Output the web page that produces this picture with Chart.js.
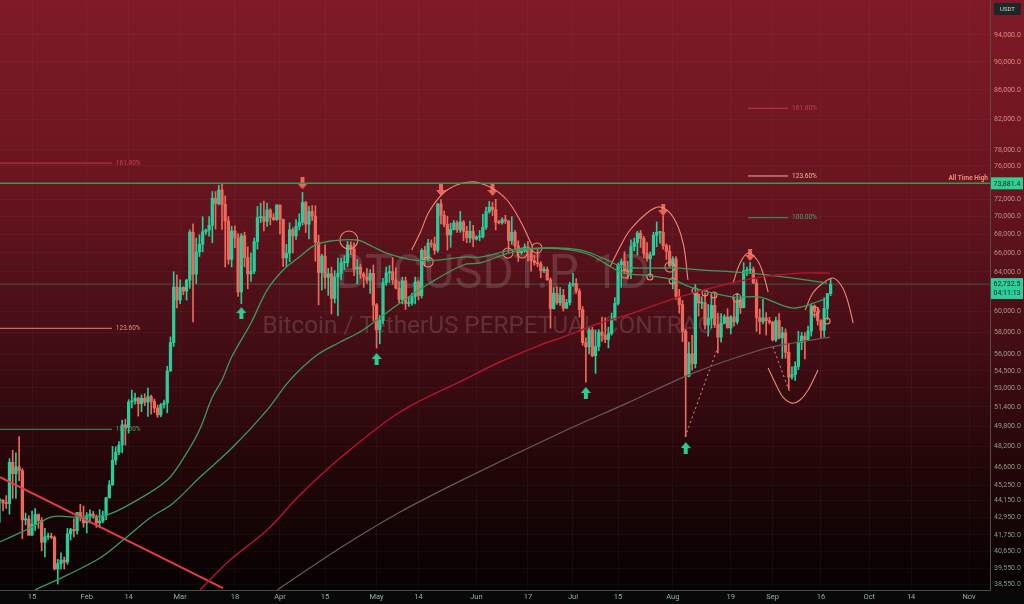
<!DOCTYPE html>
<html><head><meta charset="utf-8">
<script src="https://cdn.jsdelivr.net/npm/chart.js@4.4.1/dist/chart.umd.min.js"></script>
<style>html,body{margin:0;padding:0;background:#000;overflow:hidden}#wrap{position:relative;width:1024px;height:604px}</style>
</head><body><div id="wrap"><canvas id="c" width="1024" height="604"></canvas></div>
<script>
// ---------- DATA ----------
// daily candles BTCUSDT.P, from 2024-01-05 (day index 4, counted from Jan 1) to 2024-09-19
const startDay = 4;
const opens = [
44150,44160,43970,43930,46970,46110,46630,46340,42780,42840,41730,42500,43150,42740,41260,41620,41660,41580,39500,39850,40080,39950,41820,42120,42030,43300,42950,
42580,43080,43190,42990,42580,42700,43090,44340,45290,47130,47750,48300,49920,49700,51800,51900,52130,51660,52120,51780,52260,51850,51300,50730,51570,51730,54480,57050,62430,
61130,62390,62030,63130,68250,63750,66100,66920,68300,68500,69020,72100,71480,73080,71400,69500,65300,68390,67600,61940,67860,65490,63780,64050,67210,69880,69990,69450,70750,69890,69650,
71330,69700,65460,65960,68510,67840,68900,69360,71620,69150,70590,70060,67150,63920,65660,63420,63800,61280,63470,63840,64940,64940,66840,66410,64280,64500,63770,63460,63120,63840,
60650,58250,59120,62890,63890,64010,63160,62330,61190,63070,60790,60820,61480,62940,61580,66270,65230,67050,66940,66270,71450,70140,69120,67930,68550,69290,68500,69390,68350,67630,68350,
67490,67710,67770,68800,70560,71080,70790,69360,69300,69650,69510,67320,68240,66750,66010,66190,66640,66490,65160,64960,64830,64100,64250,63180,60280,61800,60860,61610,60320,60890,
62680,62780,62030,60200,57040,56660,58230,55850,56700,58040,57720,57340,57900,59250,60800,64750,65070,64100,63980,66670,67120,68150,67560,65930,65360,65780,67900,68230,68240,66770,66180,
64620,65350,61500,60680,58100,54020,56030,55130,61700,60830,60880,58700,59350,60600,58740,57560,58870,59480,58430,59480,59010,61160,60380,64090,64170,64260,62830,59430,59030,59380,59120,
58970,57300,59130,57490,57970,56160,53950,54160,54880,57050,57650,57340,58130,60550,60010,59130,58210,60310,61760];
const highs = [
44300,44220,44500,47250,47900,47700,48970,46500,43260,43080,43400,43580,43200,42930,42200,41880,41870,41680,40130,40550,40280,42200,42200,42850,43300,43880,43750,
43290,43480,43380,43120,43500,43400,44380,45600,48200,48170,48590,50300,50370,52000,52820,52570,52200,52400,52500,52980,52380,52050,51540,51680,51960,54900,57580,64000,63680,
63170,62480,63230,68500,69170,67600,67980,69980,68600,70000,72900,72900,73650,73881,72400,70000,68900,68950,68100,68100,68250,66650,65970,67600,71150,71560,71770,71550,70900,70350,71370,
71330,69700,66900,69290,68720,69650,70330,72800,71750,71170,71260,71230,67930,65840,66870,64360,64480,64120,65450,65420,65700,67230,67200,67080,65300,64800,63920,64370,64230,64700,
60780,59600,63330,64500,64650,65500,64400,62990,63420,63450,61450,61820,63450,63100,66450,66700,67450,67400,67700,71500,71950,70630,70050,69250,69570,69530,70600,69560,68900,69500,69000,
67860,68450,70270,71060,71760,71620,71990,69580,69850,70150,69550,69990,68450,67300,66400,66980,67230,66490,65730,66480,65070,64520,64500,63370,62360,62480,62370,62200,61200,62920,
63850,63300,62250,60500,57500,58480,58480,58240,58280,59460,59400,58500,59850,61380,64900,65350,66120,65100,67420,67600,68350,68450,67800,67100,66100,68250,69400,68310,70080,66980,66800,
65580,65600,62200,61100,58300,57100,57720,62700,61750,61470,61850,60700,61580,61800,59850,59800,59700,60270,59600,61400,61800,61400,64950,64500,65000,64500,63200,60250,61200,59900,59450,
59050,59450,59800,58500,58330,56990,54850,55300,58100,58000,57990,58600,60650,60650,60400,59210,61350,61800,63300];
const lows = [
42600,43400,43580,43180,44300,44300,45600,41500,42440,41720,41720,42050,42200,40680,40280,41450,41500,39450,38550,39490,39500,39800,41400,41620,41800,42700,42270,
41880,42570,42880,42260,42250,42570,42790,44330,45250,46800,47550,47700,48300,49250,51300,51620,50630,51000,51500,50600,50800,50930,50530,50580,51280,50900,54450,56690,60360,
60770,61650,61130,62300,59000,62800,65600,66100,68000,67800,67100,68600,71330,68550,64500,64800,64500,66560,61500,60780,64520,62260,63000,63800,66400,69300,68400,68900,69070,69570,69560,
68060,64550,64500,65060,66000,67450,68500,69040,68210,67520,69570,65100,60660,62130,62300,61600,59770,60830,59600,63170,64230,64500,65800,63600,62790,63300,62400,62800,61800,59100,
56550,56940,58800,62600,62900,62700,62250,60880,60750,60200,60490,60630,60750,61150,61330,64600,65120,66600,65850,66060,69160,68850,66300,66600,68500,68220,68230,67300,67110,67130,66670,
67380,67300,67600,68550,70380,70120,68500,69180,69130,69220,66050,66900,66300,65080,65870,66050,65100,64060,64690,64520,63380,63900,63100,58400,60240,60690,60600,60050,60300,60650,
62500,61800,59450,56800,53500,56000,55750,54270,56300,57150,57040,56560,57750,59200,60650,62400,63900,63250,63300,66220,65770,66580,65460,65100,63450,65730,66650,67050,66400,65300,64500,
62250,61200,59850,57150,49000,53950,54550,54750,59560,60280,58300,57650,58420,58460,56100,57100,58800,58420,57850,58600,58800,59800,60350,63600,63800,62800,58100,57850,58800,57750,58800,
57200,57130,57400,55600,55620,52900,53750,53650,54600,56400,55550,57320,57650,59440,58700,57500,57600,59200,61560];
const closes = [
44160,43970,43930,46970,46110,46630,46340,42780,42840,41730,42500,43150,42740,41260,41620,41660,41580,39500,39850,40080,39950,41820,42120,42030,43300,42950,42580,
43080,43190,42990,42580,42700,43090,44340,45290,47130,47750,48300,49920,49700,51800,51900,52130,51660,52120,51780,52260,51850,51300,50730,51570,51730,54480,57050,62430,61130,
62390,62030,63130,68250,63750,66100,66920,68300,68500,69020,72100,71480,73080,71400,69500,65300,68390,67600,61940,67860,65490,63780,64050,67210,69880,69990,69450,70750,69890,69650,71330,
69700,65460,65960,68510,67840,68900,69360,71620,69150,70590,70060,67150,63920,65660,63420,63800,61280,63470,63840,64940,64940,66840,66410,64280,64500,63770,63460,63120,63840,60650,
58250,59120,62890,63890,64010,63160,62330,61190,63070,60790,60820,61480,62940,61580,66270,65230,67050,66940,66270,71450,70140,69120,67930,68550,69290,68500,69390,68350,67630,68350,67490,
67710,67770,68800,70560,71080,70790,69360,69300,69650,69510,67320,68240,66750,66010,66190,66640,66490,65160,64960,64830,64100,64250,63180,60280,61800,60860,61610,60320,60890,62680,
62780,62030,60200,57040,56660,58230,55850,56700,58040,57720,57340,57900,59250,60800,64750,65070,64100,63980,66670,67120,68150,67560,65930,65360,65780,67900,68230,68240,66770,66180,64620,
65350,61500,60680,58100,54020,56030,55130,61700,60830,60880,58700,59350,60600,58740,57560,58870,59480,58430,59480,59010,61160,60380,64090,64170,64260,62830,59430,59030,59380,59120,58970,
57300,59130,57490,57970,56160,53950,54160,54880,57050,57650,57340,58130,60550,60010,59130,58210,60310,61760,62732.5];

// moving averages (day index, price)
const ma50Days = [4,10,14,19,22,28,37,45,56,62,66,70,73,76,82,87,92,97,102,107,115,120,124,132.3,140.7,147.9,153.1,163.4,173.9,181.1,187.3,194.4,197.5,206.9,213.1,219.3,231.7,240.1,250.3,259.7];
const ma50Vals = [41270,41870,42280,42910,43040,42970,43110,43960,45640,47680,49500,52220,53680,55730,58890,62130,64190,65550,66850,67280,67390,66630,65980,65240,65240,65550,65550,66310,66520,66310,65770,64390,63870,63560,63160,62340,61430,61430,60340,61150];
const ma100Days = [14.9,24.9,35.1,42.3,50.6,57.8,66.2,76.4,87,94.1,102.5,109.7,116.8,127.4,137.6,147.9,153.1,163.4,173.9,184.2,192.6,197.5,206.9,215.2,221.5,231.7,242.3,252.5,260.9];
const ma100Vals = [38180,39110,40210,41400,42910,43960,45860,48150,51130,53680,55910,57100,58230,60640,62840,64710,64920,66090,66520,66310,65240,64500,64390,64390,64190,63980,63680,63250,62840];
const ma200Days = [66.2,75.5,87,97.2,109.7,128.3,147.9,159.3,171.8,178.9,190.4,198.8,212.1,219.3,229.8,240.1,252.5,261.8];
const ma200Vals = [38180,40080,42080,44540,47300,50970,53680,55280,56820,57560,58890,59660,61150,61830,62740,63450,63860,63860];
const maSlowDays = [90.1,109.7,128.3,146.9,178,198.8,219.3,240.1,250.3,261.8];
const maSlowVals = [38180,40870,43330,45560,49260,51710,54290,56370,57010,57560];

// drawings
const trendDays = [4.06, 73.3];
const trendVals = [45860, 38300];
const athPrice = 73881.4;
const lastPrice = 62732.5;
const fibLeftDays = [4.06, 38.8];
const fibLeftVals = [76350, 58390, 49560];
const fibRightDays = [236.4, 248.8];
const fibRightVals = [83460, 74770, 69870];
const fibLabels = ['161.80%', '123.60%', '100.00%'];
const arc1Days = [131.9,134.5,137.6,142.9,150.0,156.2,161.5,165.5,169.5];
const arc1Vals = [66310,68160,70750,73090,74050,73440,71910,69610,66630];
const arc2Days = [193.5,196.6,199.7,205.0,209.0,213.1,216.2,217.7];
const arc2Vals = [64500,66630,68490,70410,71100,69950,67060,63160];
const arc3Days = [231.7,233.9,236.4,239.2,241.0,242.6];
const arc3Vals = [62840,64920,65980,65240,63870,61930];
const arc4Days = [254.1,256.5,259.7,262.8,265.6,267.5,269.0];
const arc4Vals = [60160,61830,62840,63350,62440,60830,58890];
const arc5Days = [242.6,245.4,247.2,250.0,252.5,255.0,258.1];
const arc5Vals = [54740,53080,52220,51710,51970,52820,54570];
const dot1Days = [216.8, 227.0], dot1Vals = [48940, 56640];
const dot2Days = [244.1, 249.4], dot2Vals = [56640, 52570];
const circleDays = [112.4,137.0,161.8,166.2,170.8,198.2,205.9,212.1,212.8,219.9,223.0,225.8,232.9,257.2,260.9];
const circleVals = [67390,65020,65980,65980,66520,63770,63460,64500,63050,62030,61830,61630,61330,60050,59080];
const circleSizes = [9,5,5,5,5,4,3,5,3,3,3,3,4,4,3];
const downArrowDays = [98,141,157,210,237];
const downArrowVals = [73880,73090,73090,70750,65770];
const upArrowDays = [79,121,186,217];
const upArrowVals = [59850,55550,52570,48070];

// axes
const yTicks = [94000,90000,86000,82000,78000,76000,72000,70000,68000,66000,64000,60000,58000,56000,54500,53000,51400,49800,48200,46600,45250,44150,42950,41750,40650,39550,38550];
const xTickDays = [14,31,44,60,77,91,105,121,134,152,168,182,196,213,231,244,259,274,287,305];
const xTickLabels = ['15','Feb','14','Mar','18','Apr','15','May','14','Jun','17','Jul','15','Aug','19','Sep','16','Oct','14','Nov'];

// ---------- CHART ----------
const X_MIN = 4.06, X_MAX = 311.5, Y_MIN = 38178, Y_MAX = 99495;
const GREEN = '#28cd9b', RED = '#ec695c', SALMON = '#ee8a74';
const pts = (ds, vs) => ds.map((d, i) => ({x: d, y: vs[i]}));
const cdays = opens.map((_, i) => startDay + i);
const cColors = closes.map((c, i) => c >= opens[i] ? GREEN : RED);

function arrowCanvas(color, down) {
  const c = document.createElement('canvas'); c.width = 10; c.height = 12;
  const g = c.getContext('2d'); g.fillStyle = color;
  g.save();
  if (down) { g.translate(0, 12); g.scale(1, -1); }
  g.beginPath(); g.moveTo(5, 0); g.lineTo(10, 6); g.lineTo(7, 6); g.lineTo(7, 12); g.lineTo(3, 12); g.lineTo(3, 6); g.lineTo(0, 6); g.closePath(); g.fill();
  g.restore();
  return c;
}
const upArrow = arrowCanvas('#27cf92', false), downArrow = arrowCanvas('#e8665a', true);

const lineDs = (data, color, width, extra) => Object.assign({type: 'line', data, borderColor: color, borderWidth: width, pointRadius: 0, fill: false, tension: 0.35, order: 0}, extra || {});

const datasets = [
  {type: 'bar', data: cdays.map((d, i) => ({x: d, y: [lows[i], highs[i]]})), backgroundColor: cColors, barThickness: 1, grouped: false, order: 5},
  {type: 'bar', data: cdays.map((d, i) => ({x: d, y: [opens[i], closes[i]]})), backgroundColor: cColors, barThickness: 2.6, minBarLength: 1, grouped: false, order: 4},
  lineDs(pts(maSlowDays, maSlowVals), '#675a5a', 1.2),
  lineDs(pts(ma200Days, ma200Vals), '#b8152d', 1.4),
  lineDs(pts(ma100Days, ma100Vals), '#3a9a5e', 1.3),
  lineDs(pts(ma50Days, ma50Vals), '#3a9a5e', 1.3),
  lineDs(pts(trendDays, trendVals), '#e83a4e', 2, {tension: 0}),
  lineDs([{x: X_MIN, y: athPrice}, {x: X_MAX, y: athPrice}], '#339a56', 1.5, {tension: 0}),
  lineDs([{x: X_MIN, y: lastPrice}, {x: X_MAX, y: lastPrice}], 'rgba(43,208,155,0.35)', 1, {tension: 0}),
  lineDs([{x: fibLeftDays[0], y: fibLeftVals[0]}, {x: fibLeftDays[1], y: fibLeftVals[0]}], '#c23a48', 1, {tension: 0}),
  lineDs([{x: fibLeftDays[0], y: fibLeftVals[1]}, {x: fibLeftDays[1], y: fibLeftVals[1]}], '#e8826e', 1, {tension: 0}),
  lineDs([{x: fibLeftDays[0], y: fibLeftVals[2]}, {x: fibLeftDays[1], y: fibLeftVals[2]}], '#3c9a5a', 1, {tension: 0}),
  lineDs([{x: fibRightDays[0], y: fibRightVals[0]}, {x: fibRightDays[1], y: fibRightVals[0]}], '#c23a48', 1, {tension: 0}),
  lineDs([{x: fibRightDays[0], y: fibRightVals[1]}, {x: fibRightDays[1], y: fibRightVals[1]}], '#f3b39f', 1, {tension: 0}),
  lineDs([{x: fibRightDays[0], y: fibRightVals[2]}, {x: fibRightDays[1], y: fibRightVals[2]}], '#3c9a5a', 1, {tension: 0}),
  lineDs(pts(arc1Days, arc1Vals), SALMON, 1.1),
  lineDs(pts(arc2Days, arc2Vals), SALMON, 1.1),
  lineDs(pts(arc3Days, arc3Vals), SALMON, 1.1),
  lineDs(pts(arc4Days, arc4Vals), SALMON, 1.1),
  lineDs(pts(arc5Days, arc5Vals), SALMON, 1.1),
  lineDs(pts(dot1Days, dot1Vals), SALMON, 1, {tension: 0, borderDash: [2, 3]}),
  lineDs(pts(dot2Days, dot2Vals), SALMON, 1, {tension: 0, borderDash: [2, 3]}),
  {type: 'line', data: pts(circleDays, circleVals), showLine: false, pointRadius: circleSizes, pointBorderColor: SALMON, pointBackgroundColor: 'rgba(0,0,0,0)', pointBorderWidth: 1.1, order: 0},
  {type: 'line', data: pts(downArrowDays, downArrowVals), showLine: false, pointStyle: downArrow, order: 0},
  {type: 'line', data: pts(upArrowDays, upArrowVals), showLine: false, pointStyle: upArrow, order: 0}
];

function tickColor(v) {
  const t = Math.max(0, Math.min(1, (Math.log(v) - Math.log(38550)) / (Math.log(94000) - Math.log(38550))));
  const a = [125, 160, 138], b = [224, 138, 130];
  const c = a.map((x, i) => Math.round(x + (b[i] - x) * t));
  return `rgb(${c[0]},${c[1]},${c[2]})`;
}
const fmt = v => v.toLocaleString('en-US', {minimumFractionDigits: 1, maximumFractionDigits: 1});
const noPad = s => { s.paddingLeft = 0; s.paddingRight = 0; s.paddingTop = 0; s.paddingBottom = 0; };

const bgPlugin = {
  id: 'bg',
  beforeDraw(chart) {
    const ctx = chart.ctx, b = chart.chartArea.bottom;
    const g = ctx.createLinearGradient(0, 0, 0, b);
    g.addColorStop(0, '#7f1a28'); g.addColorStop(0.3, '#6a1520'); g.addColorStop(0.55, '#480e16');
    g.addColorStop(0.8, '#210608'); g.addColorStop(1, '#060102');
    ctx.save(); ctx.fillStyle = g; ctx.fillRect(0, 0, chart.width, b);
    ctx.fillStyle = '#080808'; ctx.fillRect(0, b, chart.width, chart.height - b); ctx.restore();
  },
  beforeDatasetsDraw(chart) {
    const ctx = chart.ctx, a = chart.chartArea, cx = (a.left + a.right) / 2;
    ctx.save(); ctx.fillStyle = 'rgba(255,255,255,0.14)'; ctx.textAlign = 'center'; ctx.textBaseline = 'alphabetic';
    ctx.font = '47.5px Roboto'; ctx.fillText('BTCUSDT.P, 1D', cx - 2, 288);
    ctx.font = '24.3px Roboto'; ctx.fillText('Bitcoin / TetherUS PERPETUAL CONTRACT', cx, 333);
    ctx.restore();
  },
  afterDatasetsDraw(chart) {
    const ctx = chart.ctx, xs = chart.scales.x, ys = chart.scales.y;
    const cols = ['#c9404e', '#ee8a76', '#4aa66a'], colsR = ['#c9404e', '#f4b6a2', '#4aa66a'];
    ctx.save(); ctx.font = '6.5px Roboto'; ctx.textBaseline = 'middle'; ctx.textAlign = 'left';
    fibLabels.forEach((t, i) => {
      ctx.fillStyle = cols[i]; ctx.fillText(t, xs.getPixelForValue(fibLeftDays[1]) + 4, ys.getPixelForValue(fibLeftVals[i]));
      ctx.fillStyle = colsR[i]; ctx.fillText(t, xs.getPixelForValue(fibRightDays[1]) + 4, ys.getPixelForValue(fibRightVals[i]));
    });
    ctx.font = 'bold 6.5px Roboto'; ctx.textAlign = 'right'; ctx.textBaseline = 'alphabetic'; ctx.fillStyle = '#f08a78';
    ctx.fillText('All Time High', chart.chartArea.right - 2, ys.getPixelForValue(athPrice) - 3);
    ctx.restore();
  },
  afterDraw(chart) {
    const ctx = chart.ctx, ys = chart.scales.y, L = chart.chartArea.right + 1;
    ctx.save(); ctx.textAlign = 'center'; ctx.textBaseline = 'middle';
    let y = ys.getPixelForValue(athPrice);
    ctx.fillStyle = '#30cf92'; ctx.fillRect(L, y - 6, 32, 12);
    ctx.fillStyle = '#0d2a1e'; ctx.font = '7px Roboto'; ctx.fillText(fmt(athPrice), L + 16, y + 0.5);
    y = ys.getPixelForValue(lastPrice);
    ctx.fillStyle = '#2fcf9b'; ctx.fillRect(L, y - 6, 32, 21);
    ctx.fillStyle = '#0d2a1e'; ctx.fillText(fmt(lastPrice), L + 16, y);
    ctx.fillText('04:11:13', L + 16, y + 9);
    ctx.fillStyle = '#1d2826'; ctx.fillRect(L + 3, 3, 27, 12);
    ctx.fillStyle = '#cfd6d3'; ctx.font = '6px Roboto'; ctx.fillText('USDT', L + 16.5, 9.5);
    ctx.restore();
  }
};

new Chart(document.getElementById('c'), {
  type: 'bar',
  data: {datasets},
  plugins: [bgPlugin],
  options: {
    responsive: false, animation: false, devicePixelRatio: 1,
    layout: {padding: 0, autoPadding: false},
    plugins: {legend: {display: false}, tooltip: {enabled: false}},
    scales: {
      x: {
        type: 'linear', min: X_MIN, max: X_MAX, offset: false,
        grid: {color: 'rgba(255,255,255,0.035)', offset: false, drawTicks: false},
        border: {color: '#4a4a4a', width: 1},
        afterBuildTicks: s => { s.ticks = xTickDays.map(v => ({value: v})); },
        afterFit: s => { s.height = 14; noPad(s); },
        ticks: {autoSkip: false, maxRotation: 0, padding: 3, color: '#8cb59c', font: {family: 'Roboto', size: 7.5},
          callback: v => { const i = xTickDays.indexOf(v); return i >= 0 ? xTickLabels[i] : ''; }}
      },
      y: {
        type: 'logarithmic', position: 'right', min: Y_MIN, max: Y_MAX,
        grid: {color: 'rgba(255,255,255,0.035)', drawTicks: false},
        border: {color: '#5a4a4a', width: 1},
        afterBuildTicks: s => { s.ticks = yTicks.map(v => ({value: v})); },
        afterFit: s => { s.width = 34; noPad(s); },
        ticks: {autoSkip: false, padding: 4, font: {family: 'Roboto', size: 7},
          color: c => tickColor(c.tick ? c.tick.value : 60000),
          callback: v => fmt(v)}
      }
    }
  }
});
</script></body></html>
